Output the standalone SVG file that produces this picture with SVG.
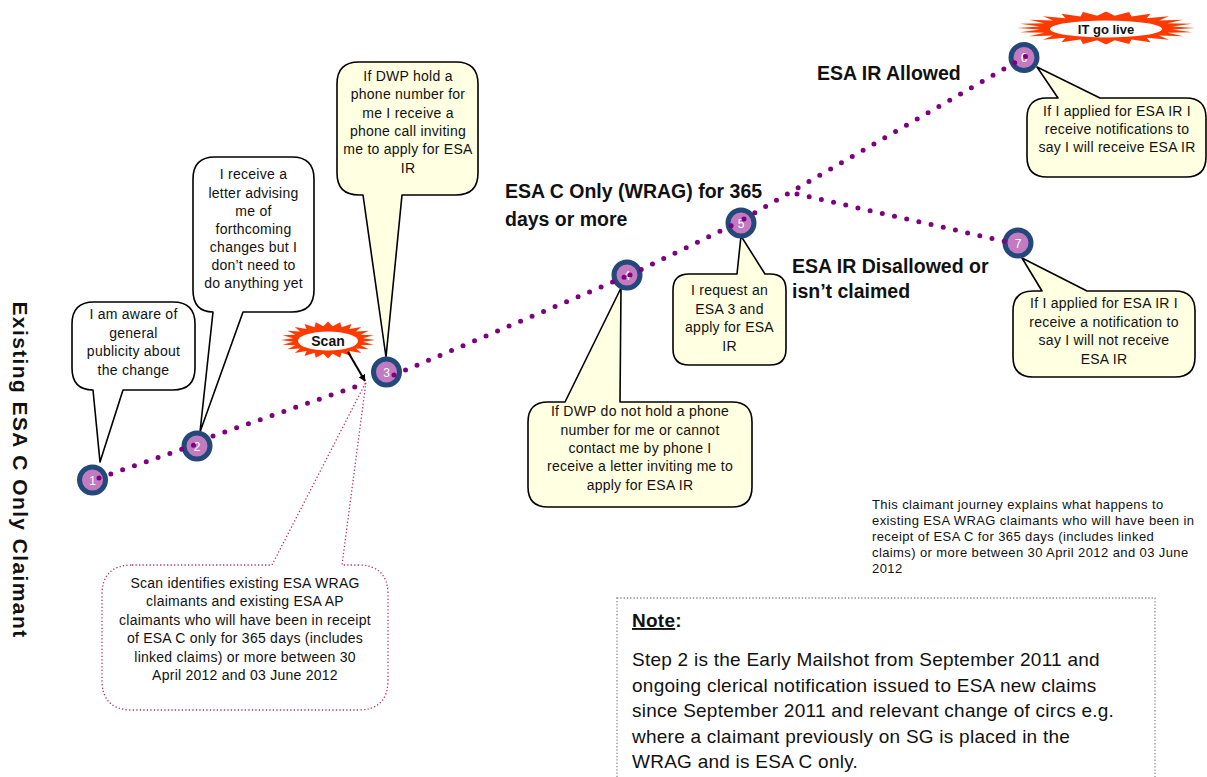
<svg xmlns="http://www.w3.org/2000/svg" xmlns:xlink="http://www.w3.org/1999/xlink" width="1207" height="777" viewBox="0 0 1207 777">
<style>
  .t { font-family: "Liberation Sans", Arial, sans-serif; fill: #111; }
  .c13 { font-size: 14px; letter-spacing: 0.25px; text-anchor: middle; }
  .lbl { font-size: 19.5px; font-weight: bold; }
  .ex { font-size: 13px; letter-spacing: 0.4px; }
  .nt { font-size: 19px; letter-spacing: 0.25px; }
  .callW { fill: #ffffff; stroke: #000; stroke-width: 1.6; stroke-linejoin: round; }
  .callY { fill: #ffffe1; stroke: #000; stroke-width: 1.6; stroke-linejoin: round; }
  .node circle { fill: #c27bc0; stroke: #23487a; stroke-width: 5; }
  .node text { font-family: "Liberation Sans", Arial, sans-serif; font-size: 12px; fill: #fff; text-anchor: middle; }
  .dots { fill: none; stroke: #7f007f; stroke-width: 5; stroke-linecap: round; stroke-dasharray: 0 12.5; }
  .star { fill: #ff3a00; }
</style>
<defs>
  <polygon id="star" points="100,0 74.4,9.8 96.6,25.9 69.3,28.7 86.6,50 59.5,45.7 70.7,70.7 45.7,59.5 50,86.6 28.7,69.3 25.9,96.6 9.8,74.4 0,100 -9.8,74.4 -25.9,96.6 -28.7,69.3 -50,86.6 -45.7,59.5 -70.7,70.7 -59.5,45.7 -86.6,50 -69.3,28.7 -96.6,25.9 -74.4,9.8 -100,0 -74.4,-9.8 -96.6,-25.9 -69.3,-28.7 -86.6,-50 -59.5,-45.7 -70.7,-70.7 -45.7,-59.5 -50,-86.6 -28.7,-69.3 -25.9,-96.6 -9.8,-74.4 0,-100 9.8,-74.4 25.9,-96.6 28.7,-69.3 50,-86.6 45.7,-59.5 70.7,-70.7 59.5,-45.7 86.6,-50 69.3,-28.7 96.6,-25.9 74.4,-9.8"/>
  <marker id="arr" viewBox="0 0 10 10" refX="9" refY="5" markerWidth="7" markerHeight="7" orient="auto" markerUnits="userSpaceOnUse">
    <path d="M0,0 L10,5 L0,10 Z" fill="#000"/>
  </marker>
</defs>

<rect width="1207" height="777" fill="#ffffff"/>

<!-- vertical title -->
<text class="t" transform="translate(13,470) rotate(90)" font-size="21" letter-spacing="1.4" font-weight="bold" text-anchor="middle">Existing ESA C Only Claimant</text>

<!-- Callout 1 -->
<g id="callout1">
  <path class="callW" d="M94,302 H173 Q195,302 195,324 V368 Q195,390 173,390 H123 L100,462 L93,390 Q72,390 72,368 V324 Q72,302 94,302 Z"/>
  <text class="t c13" x="133.5" y="319">I am aware of</text>
  <text class="t c13" x="133.5" y="338">general</text>
  <text class="t c13" x="133.5" y="356">publicity about</text>
  <text class="t c13" x="133.5" y="375">the change</text>
</g>

<!-- Callout 2 -->
<g id="callout2">
  <path class="callW" d="M215,157 H292 Q314,157 314,179 V290 Q314,312 292,312 H243 L200,432 L213,312 Q193,312 193,290 V179 Q193,157 215,157 Z"/>
  <text class="t c13" x="253.5" y="179">I receive a</text>
  <text class="t c13" x="253.5" y="198">letter advising</text>
  <text class="t c13" x="253.5" y="216">me of</text>
  <text class="t c13" x="253.5" y="234">forthcoming</text>
  <text class="t c13" x="253.5" y="252">changes but I</text>
  <text class="t c13" x="253.5" y="270">don’t need to</text>
  <text class="t c13" x="253.5" y="288">do anything yet</text>
</g>

<!-- Callout 3 -->
<g id="callout3">
  <path class="callY" d="M359,62 H456 Q478,62 478,84 V173 Q478,195 456,195 H402 L386,357 L363,195 H359 Q337,195 337,173 V84 Q337,62 359,62 Z"/>
  <text class="t c13" x="408" y="81">If DWP hold a</text>
  <text class="t c13" x="408" y="99">phone number for</text>
  <text class="t c13" x="408" y="118">me I receive a</text>
  <text class="t c13" x="408" y="136">phone call inviting</text>
  <text class="t c13" x="408" y="154">me to apply for ESA</text>
  <text class="t c13" x="408" y="173">IR</text>
</g>

<!-- Callout 4 -->
<g id="callout4">
  <path class="callY" d="M548,402 H565 L621,288 L620,402 H732 Q752,402 752,422 V487 Q752,507 732,507 H548 Q528,507 528,487 V422 Q528,402 548,402 Z"/>
  <text class="t c13" x="640" y="416">If DWP do not hold a phone</text>
  <text class="t c13" x="640" y="435">number for me or cannot</text>
  <text class="t c13" x="640" y="453">contact me by phone I</text>
  <text class="t c13" x="640" y="471">receive a letter inviting me to</text>
  <text class="t c13" x="640" y="490">apply for ESA IR</text>
</g>

<!-- Callout 5 -->
<g id="callout5">
  <path class="callY" d="M689,274 H737 L741,236 L765,274 H770 Q786,274 786,290 V349 Q786,365 770,365 H689 Q673,365 673,349 V290 Q673,274 689,274 Z"/>
  <text class="t c13" x="729.5" y="295">I request an</text>
  <text class="t c13" x="729.5" y="314">ESA 3 and</text>
  <text class="t c13" x="729.5" y="332">apply for ESA</text>
  <text class="t c13" x="729.5" y="351">IR</text>
</g>

<!-- Callout 6 -->
<g id="callout6">
  <path class="callY" d="M1047,98 H1058 L1037,67 L1100,98 H1186 Q1206,98 1206,118 V157 Q1206,177 1186,177 H1047 Q1027,177 1027,157 V118 Q1027,98 1047,98 Z"/>
  <text class="t c13" x="1117" y="116">If I applied for ESA IR I</text>
  <text class="t c13" x="1117" y="134">receive notifications to</text>
  <text class="t c13" x="1117" y="152">say I will receive ESA IR</text>
</g>

<!-- Callout 7 -->
<g id="callout7">
  <path class="callY" d="M1033,291 H1042 L1022,258 L1087,291 H1175 Q1195,291 1195,311 V357 Q1195,377 1175,377 H1033 Q1013,377 1013,357 V311 Q1013,291 1033,291 Z"/>
  <text class="t c13" x="1104" y="308">If I applied for ESA IR I</text>
  <text class="t c13" x="1104" y="327">receive a notification to</text>
  <text class="t c13" x="1104" y="345">say I will not receive</text>
  <text class="t c13" x="1104" y="364">ESA IR</text>
</g>

<!-- Scan dotted callout -->
<g id="scanNote">
  <path d="M132,565 H272 L366,382 L342,565 H358 Q388,565 388,595 V680 Q388,710 358,710 H132 Q102,710 102,680 V595 Q102,565 132,565 Z" fill="#ffffff" stroke="#b8306a" stroke-width="1.3" stroke-dasharray="1.3 2.2"/>
  <text class="t c13" x="245" y="588">Scan identifies existing ESA WRAG</text>
  <text class="t c13" x="245" y="606">claimants and existing ESA AP</text>
  <text class="t c13" x="245" y="625">claimants who will have been in receipt</text>
  <text class="t c13" x="245" y="643">of ESA C only for 365 days (includes</text>
  <text class="t c13" x="245" y="662">linked claims) or more between 30</text>
  <text class="t c13" x="245" y="680">April 2012 and 03 June 2012</text>
</g>

<!-- Scan starburst -->
<g id="scan">
  <use xlink:href="#star" href="#star" class="star" transform="translate(328,340) scale(0.47,0.185)"/>
  <ellipse cx="328" cy="341" rx="30" ry="9.5" fill="#fff"/>
  <text class="t" x="328" y="346" font-size="14" font-weight="bold" text-anchor="middle">Scan</text>
</g>

<!-- IT go live starburst -->
<g id="itlive">
  <use xlink:href="#star" href="#star" class="star" transform="translate(1106,28) scale(0.89,0.165)"/>
  <ellipse cx="1106" cy="29" rx="56" ry="8.5" fill="#fff"/>
  <text class="t" x="1106" y="33.5" font-size="13" font-weight="bold" text-anchor="middle">IT go live</text>
</g>

<!-- Stage labels -->
<g id="labels">
  <text class="t lbl" x="817" y="80">ESA IR Allowed</text>
  <text class="t lbl" x="505" y="198">ESA C Only (WRAG) for 365</text>
  <text class="t lbl" x="505" y="226">days or more</text>
  <text class="t lbl" x="792" y="273">ESA IR Disallowed or</text>
  <text class="t lbl" x="792" y="298">isn’t claimed</text>
</g>

<!-- Nodes -->
<g id="node1" class="node"><circle cx="92.5" cy="480" r="13"/><text x="92.5" y="484.5">1</text></g>
<g id="node2" class="node"><circle cx="197" cy="446" r="13"/><text x="197" y="450.5">2</text></g>
<g id="node3" class="node"><circle cx="386.5" cy="372" r="13"/><text x="386.5" y="376.5">3</text></g>
<g id="node4" class="node"><circle cx="627" cy="275" r="13"/><text x="627" y="279.5">4</text></g>
<g id="node5" class="node"><circle cx="741" cy="223" r="13"/><text x="741" y="227.5">5</text></g>
<g id="node6" class="node"><circle cx="1024" cy="57.5" r="13"/><text x="1024" y="62">6</text></g>
<g id="node7" class="node"><circle cx="1018" cy="243" r="13"/><text x="1018" y="247.5">7</text></g>

<!-- Connectors -->
<g id="connectors">
  <path class="dots" d="M99,478 L200,443"/>
  <path class="dots" d="M213,436 L366,383"/>
  <path class="dots" d="M394,375 L627,276"/>
  <path class="dots" d="M630,275 L741,221"/>
  <path class="dots" d="M744,219 L1030,54"/>
  <path class="dots" d="M797,194 L1012,243"/>
  <line x1="348" y1="352" x2="365" y2="381" stroke="#000" stroke-width="2" marker-end="url(#arr)"/>
</g>

<!-- Explanation text -->
<g id="explain">
  <text class="t ex" x="872" y="509">This claimant journey explains what happens to</text>
  <text class="t ex" x="872" y="525">existing ESA WRAG claimants who will have been in</text>
  <text class="t ex" x="872" y="541">receipt of ESA C for 365 days (includes linked</text>
  <text class="t ex" x="872" y="557">claims) or more between 30 April 2012 and 03 June</text>
  <text class="t ex" x="872" y="573">2012</text>
</g>

<!-- Note box -->
<g id="note">
  <rect x="617" y="598" width="538" height="200" fill="#fff" stroke="#8a8a8a" stroke-width="1.3" stroke-dasharray="1.3 2"/>
  <text class="t nt" x="632" y="627"><tspan font-weight="bold" text-decoration="underline">Note</tspan><tspan font-weight="bold">:</tspan></text>
  <text class="t nt" x="632" y="666">Step 2 is the Early Mailshot from September 2011 and</text>
  <text class="t nt" x="632" y="691.5">ongoing clerical notification issued to ESA new claims</text>
  <text class="t nt" x="632" y="717">since September 2011 and relevant change of circs e.g.</text>
  <text class="t nt" x="632" y="742.5">where a claimant previously on SG is placed in the</text>
  <text class="t nt" x="632" y="768">WRAG and is ESA C only.</text>
</g>
</svg>
